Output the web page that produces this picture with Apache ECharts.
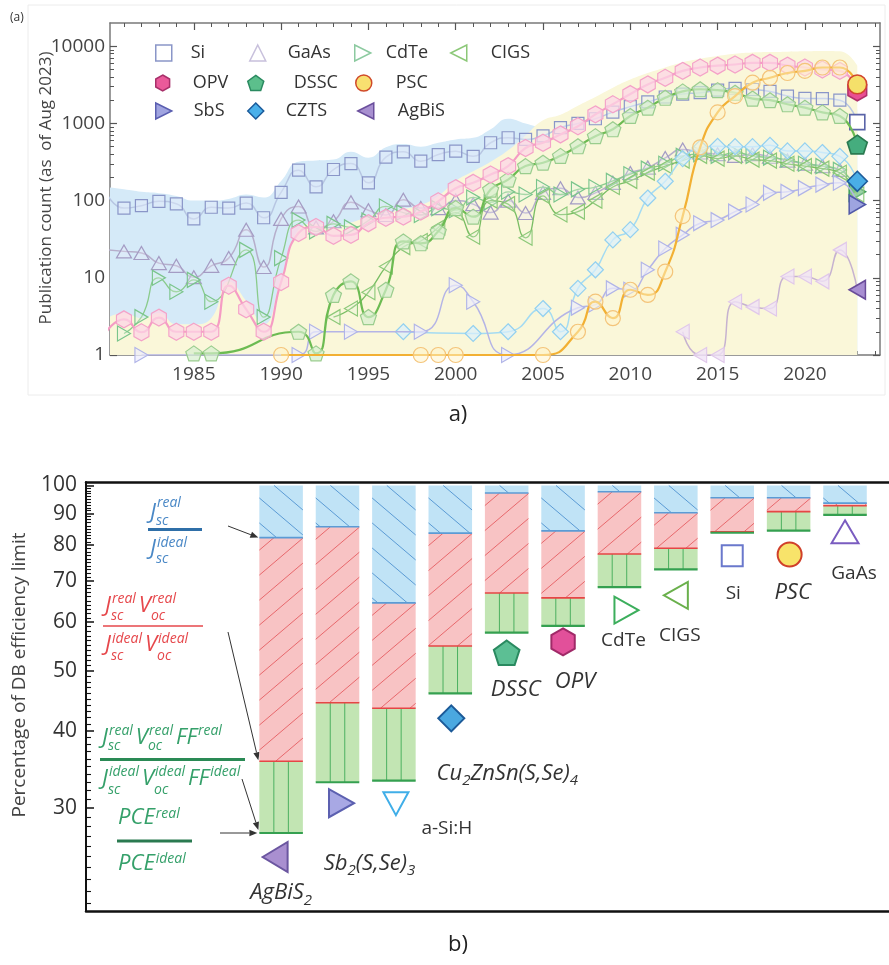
<!DOCTYPE html>
<html><head><meta charset="utf-8">
<script src="https://cdn.jsdelivr.net/npm/echarts/dist/echarts.min.js"></script>
<style>html,body{margin:0;padding:0;background:#fff}#c{width:889px;height:965px}</style>
</head><body><div id="c"></div>
<script>
const FONT = "'Open Sans', 'Noto Sans', sans-serif";
// ---------------- panel (a) data ----------------
const years = [1980,1981,1982,1983,1984,1985,1986,1987,1988,1989,1990,1991,1992,1993,1994,1995,1996,1997,1998,1999,2000,2001,2002,2003,2004,2005,2006,2007,2008,2009,2010,2011,2012,2013,2014,2015,2016,2017,2018,2019,2020,2021,2022,2023];
const si    = [126,80,86,98,91,58,82,80,93,60, 128,248,151,253,302,170,365,429,324,395, 437,375,562,652,620,690,880,1000,1150,1400, 1650,1900,2200,2400,2500,2700,2850,2750,2600,2260, 2110,2100,2000,1040];
const gaas  = [23,22,21,15.5,14.3,10.2,14.3,18,42,13.8, 58,84,45,54,95,75,65,103,80,80, 100,90,70,100,69,126,145,110,126,170, 228,268,357,459,420,400,380,400,370,330, 300,280,250,null];
const cdte  = [null,1.9,3.1,10,6.6,9.4,4.9,null,23,3.1, 18,56,40,50,45,55,84,70,65,80, 75,110,95,130,120,150,120,140,150,180, 220,260,300,380,400,380,420,380,360,340, 300,280,250,130];
const cigs  = [null,null,null,null,null,null,null,null,null,null, null,null,null,3.1,4,6.5,14,25,30,45, 70,34,100,90,33,115,66,72,100,150, 180,230,280,330,380,350,380,340,330,300, 280,260,230,120];
const opv   = [2.0,2.9,1.97,3.05,2.0,2.0,2.0,7.9,3.9,2.0, 8.8,38,45.5,35,36,51,60,62,72,98, 145,170,218,280,480,562,720,920,1310,1770, 2400,3200,3900,4800,5300,5600,5800,6100,6100,5600, 5300,5000,4800,2700];
const dssc  = [null,null,null,null,null,1.05,1.05,null,null,null, null,2.0,1.05,6.0,9.0,3.1,7.0,29.6,28,40, 80,62,139,187,280,310,380,506,684,840, 1250,1600,2150,2600,2770,2700,2500,2100,2000,1770, 1600,1390,1250,533];
const psc   = [null,null,null,null,null,null,null,null,null,null, 1,null,null,null,null,null,null,null,1,1, 1,null,null,null,null,1,null,2.0,4.9,3.0, 7.0,6.0,12,63,490,1390,2260,3370,3900,4500, 4800,5300,5300,3200];
const sbs   = [null,null,1,null,null,null,null,null,null,null, null,1,2.0,null,2.0,null,null,null,2.0,null, 8.0,4.9,null,1,null,null,null,4.1,4.5,7.3, 7,12.7,24,36,51,56,72,89,126,130, 145,161,170,89];
const czts  = [null,null,null,null,null,null,null,null,null,null, null,null,null,null,null,null,null,2.0,null,null, null,1.9,null,2.0,null,4.0,2.0,7.3,12.7,31, 42,108,178,350,480,505,500,500,520,440, 440,420,375,178];
const agbis = [null,null,null,null,null,null,null,null,null,null, null,null,null,null,null,null,null,null,null,null, null,null,null,null,null,null,null,null,null,null, null,null,null,2.0,1,1,4.9,4.2,4.0,10.4, 10.4,9.0,23,7.0];
const blueBand   = [150,140,130,125,115,100,100,105,120,110, 180,320,330,340,430,360,490,540,500,560, 620,650,840,1150,1000,900,1000,1200,1500,1900, 2300,2700,3000,3300,3600,3800,3900,3700,3400,3200, 3100,3000,2900,1500];
const yellowBand = [3,3.5,3,3.5,2.5,2.5,3,9,5,2.5, 10,42,50,45,52,62,70,78,88,115, 180,240,320,450,700,1100,1300,1700,2200,2900, 3700,4500,5300,6200,6900,7500,8000,8300,8400,8500, 8600,8700,8600,5600];
const xTickLabels = [1985,1990,1995,2000,2005,2010,2015,2020];
const yTickLabels = [1,10,100,1000,10000];
// ---------------- panel (b) data ----------------
const materials = ['AgBiS2','Sb2(S,Se)3','a-Si:H','Cu2ZnSn(S,Se)4','DSSC','OPV','CdTe','CIGS','Si','PSC','GaAs'];
const jscRatio = [82.3,85.7,64.5,83.7,97.2,84.4,97.7,90.3,95.5,95.5,93.6];
const jvRatio  = [35.7,44.4,43.5,54.9,66.9,65.7,77.4,79.1,84.1,90.7,92.7];
const pceRatio = [27.3,33.0,33.2,46.0,57.7,59.2,68.4,73.1,83.8,84.5,89.6];
const effTickLabels = [30,40,50,60,70,80,90,100];
const materialLabels = ['{i|AgBiS}{s|2}','{i|Sb}{s|2}{i|(S,Se)}{s|3}','{n|a-Si:H}','{i|Cu}{s|2}{i|ZnSn(S,Se)}{s|4}','{i|DSSC}','{i|OPV}','{n|CdTe}','{n|CIGS}','{n|Si}','{i|PSC}','{n|GaAs}'];

// ---------------- tick helpers ----------------
const xMinorTicks = []; for (let y = 1981; y <= 2024; y++) if (y % 5) xMinorTicks.push(y);
const yMinorTicks = []; [1,10,100,1000].forEach(d => { for (let k = 2; k <= 9; k++) yMinorTicks.push(k*d); });
const effMinorTicks = []; for (let v = 21; v < 100; v++) if (v % 10) effMinorTicks.push(v);

// ---------------- symbols ----------------
const HEX = 'path://M0,-10L8.66,-5L8.66,5L0,10L-8.66,5L-8.66,-5Z';
const PENT = 'path://M0,-10L9.51,-3.09L5.88,8.09L-5.88,8.09L-9.51,-3.09Z';
const RTRI = 'path://M10,0L-8,-9L-8,9Z';
const LTRI = 'path://M-10,0L8,-9L8,9Z';

const seriesDefs = [
  {name:'Si', arr:si, sym:'rect', size:[12,12], line:'#b7c6e2', lw:1.5, border:'#8a96c8', fill:'rgba(228,234,250,0.45)', last:{fill:'#ffffff', border:'#5a64a8'}, legend:{fill:'#ffffff', border:'#8a96c8'}},
  {name:'GaAs', arr:gaas, sym:'triangle', size:[15,13], line:'#b6aecb', lw:1.5, border:'#a49cc4', fill:'rgba(240,236,250,0.3)', legend:{fill:'#ffffff', border:'#c8c0dc'}},
  {name:'CdTe', arr:cdte, sym:RTRI, size:[13,15], line:'#8acb8c', lw:1.3, border:'#7ac58c', fill:'rgba(230,245,232,0.3)', last:{fill:'#7ac58c', border:'#3a9a5a'}, legend:{fill:'#ffffff', border:'#8ccaa0'}},
  {name:'CIGS', arr:cigs, sym:LTRI, size:[13,15], line:'#79bd63', lw:1.3, border:'#8cc878', fill:'rgba(232,245,225,0.3)', legend:{fill:'#ffffff', border:'#8cc878'}},
  {name:'CZTS', arr:czts, sym:'diamond', size:[16,16], line:'#a4dbf2', lw:1.5, border:'#92d0f0', fill:'rgba(218,240,252,0.7)', last:{fill:'#4aaee6', border:'#1e5c9a'}, legend:{fill:'#4ab0ea', border:'#1a5a9a'}},
  {name:'SbS', arr:sbs, sym:RTRI, size:[13,15], line:'#b4b4e6', lw:1.5, border:'#b0b4e8', fill:'rgba(236,236,252,0.7)', last:{fill:'#9ea4e0', border:'#5058a8'}, legend:{fill:'#a0a4e0', border:'#5a5eb0'}},
  {name:'AgBiS', arr:agbis, sym:LTRI, size:[13,15], line:'#c6b2d0', lw:1.5, border:'#e0c8ea', fill:'rgba(240,226,246,0.8)', last:{fill:'#a88ed2', border:'#6a4c9a'}, legend:{fill:'#a890d0', border:'#6a4e9c'}},
  {name:'DSSC', arr:dssc, sym:PENT, size:[16,15], line:'#6cbb52', lw:2.2, border:'#9acd8e', fill:'rgba(214,238,206,0.7)', last:{fill:'#45ad7e', border:'#2a7a50'}, legend:{fill:'#5cbf8c', border:'#2a8a60'}},
  {name:'OPV', arr:opv, sym:HEX, size:[15,17], line:'#f59cc4', lw:2.2, border:'#f4a2c8', fill:'rgba(252,214,230,0.75)', last:{fill:'#e94e93', border:'#b0306a'}, legend:{fill:'#ea5a9a', border:'#a8306a'}},
  {name:'PSC', arr:psc, sym:'circle', size:15, line:'#f2b033', lw:2.2, border:'#f4c47a', fill:'rgba(255,243,200,0.5)', last:{fill:'#f5e06a', border:'#d2452e'}, legend:{fill:'#f8e070', border:'#d04a2a'}}
];

function mkData(def) {
  const out = [];
  years.forEach((y, i) => {
    const v = def.arr[i];
    if (v == null) return;
    const it = {value: [y, v]};
    if (i === years.length - 1 && def.last) {
      it.symbolSize = Array.isArray(def.size) ? def.size.map(s => s * 1.25) : def.size * 1.25;
      it.itemStyle = {color: def.last.fill, borderColor: def.last.border, borderWidth: 1.6, opacity: 1};
    }
    out.push(it);
  });
  return out;
}

const series = [];
series.push({type:'line', name:'band1', xAxisIndex:0, yAxisIndex:0, data: years.map((y,i)=>[y, blueBand[i]]), smooth:0.5, symbol:'none', lineStyle:{width:0}, areaStyle:{color:'#d5eaf8', opacity:1, origin:'start'}, z:1, silent:true});
series.push({type:'line', name:'band2', xAxisIndex:0, yAxisIndex:0, data: years.map((y,i)=>[y, yellowBand[i]]), smooth:0.5, symbol:'none', lineStyle:{width:0}, areaStyle:{color:'#faf7d9', opacity:1, origin:'start'}, z:1, silent:true});
seriesDefs.forEach((d, k) => {
  series.push({
    type:'line', name:d.name, xAxisIndex:0, yAxisIndex:0, data: mkData(d), smooth:0.55,
    symbol:d.sym, symbolSize:d.size, showAllSymbol:true,
    lineStyle:{color:d.line, width:d.lw}, itemStyle:{color:d.fill, borderColor:d.border, borderWidth:1.2},
    z: 3 + k, emphasis:{disabled:true}
  });
});

// ---------------- legends ----------------
const legendPos = {
  'Si':[158,48,14], 'GaAs':[252,48,17], 'CdTe':[357,48,10], 'CIGS':[453,48,19],
  'OPV':[158,78,17], 'DSSC':[250,78,25], 'PSC':[358,78,19],
  'SbS':[158,106,17], 'CZTS':[250,106,17], 'AgBiS':[360,106,19]
};
const legends = seriesDefs.map(d => {
  const p = legendPos[d.name];
  return {
    left: p[0] - 8, top: p[1] - 9, itemWidth: 16, itemHeight: 16, selectedMode: false,
    data: [{name: d.name, icon: d.sym, itemStyle: {color: d.legend.fill, borderColor: d.legend.border, borderWidth: 1.5}}],
    textStyle: {fontSize: 18, fontFamily: FONT, color: '#333', padding: [0,0,0,p[2]]}
  };
});

// ---------------- panel (b) custom bars ----------------
const BAR_HALF = 0.386;
const symSpecs = [
  {k:'left', w:25, h:30, fill:'#a98fd0', stroke:'#6b56a0', dx:-6, dy:24},
  {k:'right', w:25, h:28, fill:'#a8a8e4', stroke:'#5c60b0', dx:4, dy:21},
  {k:'down', w:25, h:23, fill:'#ffffff', stroke:'#40aee8', dx:2, dy:23},
  {k:'diamond', w:26, h:26, fill:'#4aa8e0', stroke:'#1c5a98', dx:1, dy:25},
  {k:'pent', w:27, h:26, fill:'#5cbf94', stroke:'#2a8a60', dx:0, dy:20},
  {k:'hex', w:24, h:27, fill:'#e2509a', stroke:'#a02a68', dx:0, dy:16},
  {k:'right', w:24, h:27, fill:'#ffffff', stroke:'#3cae5c', dx:7, dy:23},
  {k:'left', w:24, h:27, fill:'#ffffff', stroke:'#6ab04c', dx:0, dy:26},
  {k:'square', w:21, h:21, fill:'#ffffff', stroke:'#6a78cc', dx:0, dy:23},
  {k:'circle', w:24, h:24, fill:'#f8e36a', stroke:'#d0402a', dx:1, dy:24},
  {k:'up', w:27, h:23, fill:'#ffffff', stroke:'#7a5cc0', dx:0, dy:17}
];
const labelOffsets = [[0,60],[32,81],[53,48],[57,80],[9,57],[12,56],[4,53],[4,66],[1,61],[4,62],[9,59]];

function polyPoints(k, w, h) {
  switch (k) {
    case 'left': return [[-w/2,0],[w/2,-h/2],[w/2,h/2]];
    case 'right': return [[w/2,0],[-w/2,-h/2],[-w/2,h/2]];
    case 'down': return [[0,h/2],[-w/2,-h/2],[w/2,-h/2]];
    case 'up': return [[0,-h/2],[w/2,h/2],[-w/2,h/2]];
    case 'diamond': return [[0,-h/2],[w/2,0],[0,h/2],[-w/2,0]];
    case 'square': return [[-w/2,-h/2],[w/2,-h/2],[w/2,h/2],[-w/2,h/2]];
    case 'pent': { const r = w/2; const pts=[]; for (let j=0;j<5;j++){const a=-Math.PI/2+j*2*Math.PI/5; pts.push([r*Math.cos(a), r*Math.sin(a)+r*0.1]);} return pts; }
    case 'hex': { const r = h/2; const pts=[]; for (let j=0;j<6;j++){const a=-Math.PI/2+j*Math.PI/3; pts.push([r*Math.cos(a), r*Math.sin(a)]);} return pts; }
  }
  return [];
}

function hatch(xL, xR, yT, yB, slope, spacing, color, lw) {
  const out = [];
  const W = xR - xL;
  if (yB - yT < 0.5) return out;
  const kMin = Math.floor(-Math.max(0, slope * W) / spacing) - 1;
  const kMax = Math.ceil((yB - yT - Math.min(0, slope * W)) / spacing) + 1;
  for (let k = kMin; k <= kMax; k++) {
    const y1 = yT + k * spacing + spacing * 0.5, y2 = y1 + slope * W;
    const tA = (yT - y1) / (y2 - y1), tB = (yB - y1) / (y2 - y1);
    const t0 = Math.max(0, Math.min(tA, tB)), t1 = Math.min(1, Math.max(tA, tB));
    if (t1 - t0 > 1e-3) {
      out.push({type:'line', shape:{x1:xL + t0*W, y1:y1 + t0*(y2-y1), x2:xL + t1*W, y2:y1 + t1*(y2-y1)}, style:{stroke:color, lineWidth:lw}});
    }
  }
  return out;
}

const labelRich = {
  i: {fontFamily: FONT, fontStyle: 'italic', fontSize: 22, fill: '#333', color: '#333', lineHeight: 30},
  s: {fontFamily: FONT, fontStyle: 'italic', fontSize: 15, fill: '#333', color: '#333', lineHeight: 15, verticalAlign: 'bottom'},
  n: {fontFamily: FONT, fontSize: 19, fill: '#333', color: '#333', lineHeight: 30}
};

function renderBar(params, api) {
  const i = api.value(0);
  const jsc = api.value(1), jv = api.value(2), pce = api.value(3);
  const xL = api.coord([i - BAR_HALF, 100])[0];
  const xR = api.coord([i + BAR_HALF, 100])[0];
  const yTop = api.coord([i, 100])[1];
  const yJ = api.coord([i, jsc])[1];
  const yV = api.coord([i, jv])[1];
  const yP = api.coord([i, pce])[1];
  const w = xR - xL, bc = (xL + xR) / 2;
  const ch = [];
  ch.push({type:'rect', shape:{x:xL, y:yTop, width:w, height:yJ-yTop}, style:{fill:'#c0e3f6'}});
  hatch(xL, xR, yTop, yJ, 0.85, 25, '#5b9bd5', 1).forEach(e => ch.push(e));
  ch.push({type:'rect', shape:{x:xL, y:yJ, width:w, height:yV-yJ}, style:{fill:'#f8c3c4'}});
  hatch(xL, xR, yJ, yV, -0.85, 25, '#e8686c', 1).forEach(e => ch.push(e));
  ch.push({type:'rect', shape:{x:xL, y:yV, width:w, height:yP-yV}, style:{fill:'#c2e5b3'}});
  [1/3, 2/3].forEach(f => ch.push({type:'line', shape:{x1:xL+w*f, y1:yV, x2:xL+w*f, y2:yP}, style:{stroke:'#4cb060', lineWidth:1}}));
  ch.push({type:'line', shape:{x1:xL, y1:yJ, x2:xR, y2:yJ}, style:{stroke:'#5b9bd5', lineWidth:1.6}});
  ch.push({type:'line', shape:{x1:xL, y1:yV, x2:xR, y2:yV}, style:{stroke:'#e64545', lineWidth:1.6}});
  ch.push({type:'line', shape:{x1:xL, y1:yP, x2:xR, y2:yP}, style:{stroke:'#35a050', lineWidth:2.2}});
  const s = symSpecs[i];
  const sx = bc + s.dx, sy = yP + s.dy;
  if (s.k === 'circle') {
    ch.push({type:'circle', shape:{cx:sx, cy:sy, r:s.w/2}, style:{fill:s.fill, stroke:s.stroke, lineWidth:2}});
  } else {
    ch.push({type:'polygon', shape:{points: polyPoints(s.k, s.w, s.h).map(p => [sx + p[0], sy + p[1]])}, style:{fill:s.fill, stroke:s.stroke, lineWidth:2}});
  }
  const lo = labelOffsets[i];
  ch.push({type:'text', x: bc + lo[0], y: yP + lo[1], style:{text: materialLabels[i], rich: labelRich, align:'center', verticalAlign:'middle', textAlign:'center', textVerticalAlign:'middle', fontFamily: FONT}});
  return {type:'group', children: ch};
}

series.push({
  type:'custom', name:'bars', xAxisIndex:4, yAxisIndex:4,
  data: materials.map((m, i) => [i, jscRatio[i], jvRatio[i], pceRatio[i]]),
  encode: {x: 0, y: [1, 2, 3]}, renderItem: renderBar, clip: false, z: 5, silent: true
});

// ---------------- axes ----------------
const grayLine = {color:'#7a7a7a', width:1.5};
function xa(grid, min, max, pos, opts) {
  return Object.assign({gridIndex:grid, type:'value', min:min, max:max, position:pos, splitLine:{show:false}, axisLine:{show:false, onZero:false}, axisTick:{show:false}, axisLabel:{show:false}}, opts);
}
const xAxes = [
  xa(0, 1980.2, 2024.3, 'bottom', {axisLine:{show:true, onZero:false, lineStyle:grayLine}, axisTick:{show:true, inside:true, length:7, customValues:xTickLabels, lineStyle:{color:'#555', width:1.2}}, axisLabel:{show:true, customValues:xTickLabels, fontSize:19, color:'#444', fontFamily:FONT, margin:10, formatter: v => String(Math.round(v))}}),
  xa(0, 1980.2, 2024.3, 'bottom', {axisTick:{show:true, inside:true, length:4, customValues:xMinorTicks, lineStyle:{color:'#555', width:1}}}),
  xa(0, 1980.2, 2024.3, 'top', {axisLine:{show:true, onZero:false, lineStyle:grayLine}, axisTick:{show:true, inside:true, length:7, customValues:xTickLabels, lineStyle:{color:'#555', width:1.2}}}),
  xa(0, 1980.2, 2024.3, 'top', {axisTick:{show:true, inside:true, length:4, customValues:xMinorTicks, lineStyle:{color:'#555', width:1}}}),
  xa(1, -3.46, 10.78, 'bottom', {axisLine:{show:true, onZero:false, lineStyle:{color:'#111', width:2.5}}}),
  xa(1, -3.46, 10.78, 'top', {axisLine:{show:true, onZero:false, lineStyle:{color:'#111', width:2.5}}})
];
function ya(grid, min, max, pos, opts) {
  return Object.assign({gridIndex:grid, type:'log', logBase:10, min:min, max:max, position:pos, splitLine:{show:false}, minorTick:{show:false}, axisLine:{show:false, onZero:false}, axisTick:{show:false}, axisLabel:{show:false}}, opts);
}
const yAxes = [
  ya(0, 1, 20000, 'left', {axisLine:{show:true, onZero:false, lineStyle:grayLine}, axisTick:{show:true, inside:true, length:7, customValues:yTickLabels, lineStyle:{color:'#555', width:1.2}}, axisLabel:{show:true, customValues:yTickLabels, fontSize:19, color:'#444', fontFamily:FONT, margin:5, formatter: v => String(Math.round(v))}}),
  ya(0, 1, 20000, 'left', {axisTick:{show:true, inside:true, length:4, customValues:yMinorTicks, lineStyle:{color:'#555', width:1}}}),
  ya(0, 1, 20000, 'right', {axisLine:{show:true, onZero:false, lineStyle:grayLine}, axisTick:{show:true, inside:true, length:7, customValues:yTickLabels, lineStyle:{color:'#555', width:1.2}}}),
  ya(0, 1, 20000, 'right', {axisTick:{show:true, inside:true, length:4, customValues:yMinorTicks, lineStyle:{color:'#555', width:1}}}),
  ya(1, 20.4, 101.3, 'left', {axisLine:{show:true, onZero:false, lineStyle:{color:'#111', width:2}}, axisTick:{show:true, inside:true, length:8, customValues:effTickLabels, lineStyle:{color:'#111', width:1.5}}, axisLabel:{show:true, customValues:effTickLabels, fontSize:21, color:'#333', fontFamily:FONT, margin:9, formatter: v => String(Math.round(v))}}),
  ya(1, 20.4, 101.3, 'left', {axisTick:{show:true, inside:true, length:5, customValues:effMinorTicks, lineStyle:{color:'#111', width:1.1}}})
];

const option = {
  animation: false,
  backgroundColor: '#ffffff',
  textStyle: {fontFamily: FONT},
  grid: [
    {left:110, top:23, width:770, height:332},
    {left:86, top:482, width:813, height:429}
  ],
  legend: legends,
  xAxis: xAxes,
  yAxis: yAxes,
  series: series
};

const chart = echarts.init(document.getElementById('c'), null, {renderer:'canvas'});
chart.setOption(option);

// ---------------- annotations ----------------
const mctx = document.createElement('canvas').getContext('2d');
function meas(t, f) { mctx.font = f; return mctx.measureText(t).width; }
function txt(t, x, y, font, color, align, rot) {
  return {type:'text', x:x, y:y, rotation: rot || 0, style:{text:t, font:font, fill:color, align: align || 'left', verticalAlign:'middle', textAlign: align || 'left', textVerticalAlign:'middle'}, silent:true};
}
function fraction(sp) {
  const els = [];
  els.push({type:'line', shape:{x1:sp.x0, y1:sp.y, x2:sp.x1, y2:sp.y}, style:{stroke:sp.barColor, lineWidth:sp.bw}, silent:true});
  const bf = 'italic ' + sp.bs + "px 'Open Sans'";
  const sf = 'italic ' + sp.ss + "px 'Open Sans'";
  const row = (terms, dy) => {
    let x = sp.x0 + sp.pad;
    terms.forEach(t => {
      els.push(txt(t.b, x, sp.y + dy.base, bf, sp.color));
      const sx = x + meas(t.b, bf) + 1;
      let w2 = 0;
      if (t.sup) { els.push(txt(t.sup, sx, sp.y + dy.sup, sf, sp.color)); w2 = Math.max(w2, meas(t.sup, sf)); }
      if (t.sub) { els.push(txt(t.sub, sx - 1, sp.y + dy.sub, sf, sp.color)); w2 = Math.max(w2, meas(t.sub, sf)); }
      x = sx + w2 + 3;
    });
  };
  row(sp.num, sp.numDy);
  row(sp.den, sp.denDy);
  return els;
}
const J = (s) => ({b:'J', sup:s, sub:'sc'});
const V = (s) => ({b:'V', sup:s, sub:'oc'});
const fracs = [
  {x0:148, x1:202, y:529.5, bw:3, barColor:'#2f6fa8', color:'#4a88c6', bs:22, ss:14, pad:2,
   num:[J('real')], den:[J('ideal')], numDy:{base:-17, sup:-26, sub:-8}, denDy:{base:19, sup:14, sub:30}},
  {x0:103, x1:203, y:626, bw:1.5, barColor:'#e6474b', color:'#e6474b', bs:22, ss:14, pad:2,
   num:[J('real'), V('real')], den:[J('ideal'), V('ideal')], numDy:{base:-20, sup:-27, sub:-10}, denDy:{base:19, sup:13, sub:30}},
  {x0:100, x1:245, y:759.5, bw:3, barColor:'#2a8a55', color:'#35a06a', bs:22, ss:14, pad:2,
   num:[J('real'), V('real'), {b:'FF', sup:'real'}], den:[J('ideal'), V('ideal'), {b:'FF', sup:'ideal'}], numDy:{base:-22, sup:-28, sub:-13}, denDy:{base:19, sup:13, sub:31}},
  {x0:117, x1:192, y:841, bw:3, barColor:'#2a7a50', color:'#35a06a', bs:22, ss:14, pad:1,
   num:[{b:'PCE', sup:'real'}], den:[{b:'PCE', sup:'ideal'}], numDy:{base:-23, sup:-27}, denDy:{base:23, sup:18}}
];
function arrow(x1, y1, x2, y2) {
  const a = Math.atan2(y2 - y1, x2 - x1), L = 8, Wd = 3.2;
  const bx = x2 - L * Math.cos(a), by = y2 - L * Math.sin(a);
  const nx = -Math.sin(a) * Wd, ny = Math.cos(a) * Wd;
  return [
    {type:'line', shape:{x1:x1, y1:y1, x2:bx, y2:by}, style:{stroke:'#333', lineWidth:1}, silent:true},
    {type:'polygon', shape:{points:[[x2,y2],[bx+nx,by+ny],[bx-nx,by-ny]]}, style:{fill:'#333'}, silent:true}
  ];
}
const px = (x, y) => chart.convertToPixel({xAxisIndex:4, yAxisIndex:4}, [x, y]);
const pJ = px(-BAR_HALF, jscRatio[0]);
const pV = px(-BAR_HALF, jvRatio[0]);
const pP = px(-BAR_HALF, pceRatio[0]);

let g = [];
g.push({type:'rect', shape:{x:28, y:5, width:857, height:390}, style:{fill:'none', stroke:'#ececec', lineWidth:1}, silent:true, z:-10});
g.push(txt('(a)', 10, 18, "12px 'Open Sans'", '#333'));
g.push(txt('Publication count (as  of Aug 2023)', 46, 188, "17px 'Open Sans'", '#444', 'center', Math.PI / 2));
g.push(txt('Percentage of DB efficiency limit', 20, 675, "19px 'Open Sans'", '#444', 'center', Math.PI / 2));
g.push(txt('a)', 458, 415, "22px 'Open Sans'", '#222', 'center'));
g.push(txt('b)', 458, 945, "22px 'Open Sans'", '#222', 'center'));
fracs.forEach(f => { g = g.concat(fraction(f)); });
g = g.concat(arrow(228, 526, pJ[0] - 1, pJ[1]));
g = g.concat(arrow(228, 632, pV[0] - 1, pV[1] - 1));
g = g.concat(arrow(242, 779, pP[0] - 1, pP[1] - 3));
g = g.concat(arrow(220, pP[1], pP[0] - 2, pP[1]));
chart.setOption({graphic: {elements: g}});
</script></body></html>
